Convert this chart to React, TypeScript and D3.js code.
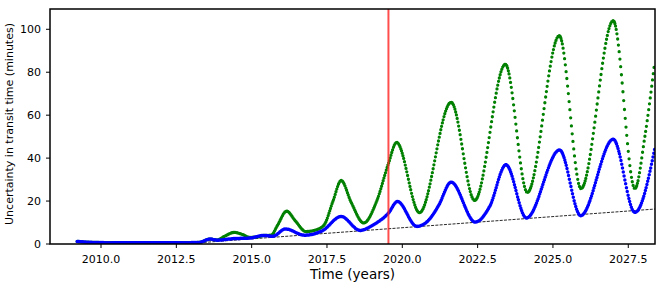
import React, { useEffect, useRef } from "react";
import * as d3 from "d3";

// values
const greenTimes = [2009.21, 2009.6, 2010.5, 2011.5, 2012.5, 2013.25, 2013.62, 2013.85, 2014.1, 2014.42, 2014.7, 2014.93, 2015.2, 2015.4, 2015.65, 2015.85, 2016.16, 2016.45, 2016.8, 2017.1, 2017.4, 2017.7, 2017.97, 2018.3, 2018.72, 2019.15, 2019.54, 2019.81, 2020.57, 2021.62, 2022.4, 2023.42, 2024.15, 2025.21, 2025.93, 2027.0, 2027.72, 2028.05, 2028.38];
const greenValues = [1.2, 0.8, 0.6, 0.6, 0.6, 0.7, 2.3, 1.9, 3.6, 5.4, 4.4, 3.1, 3.3, 4.0, 4.1, 8.5, 15.3, 10.8, 5.8, 6.4, 8.8, 20, 29.6, 19.5, 9.8, 20, 37.5, 47.3, 14.6, 66, 20.3, 83.7, 24, 97, 25.8, 104, 25.8, 50, 85];

const blueTimes = [2009.21, 2009.6, 2010.5, 2011.5, 2012.5, 2013.25, 2013.62, 2013.85, 2014.4, 2014.95, 2015.4, 2015.7, 2016.12, 2016.75, 2017.35, 2017.97, 2018.6, 2019.0, 2019.54, 2019.84, 2020.48, 2020.9, 2021.2, 2021.62, 2022.42, 2022.9, 2023.44, 2024.12, 2025.22, 2025.92, 2027.0, 2027.72, 2028.38];
const blueValues = [1.2, 0.8, 0.6, 0.6, 0.6, 0.7, 2.3, 1.8, 2.5, 2.8, 4.0, 3.6, 7.0, 4.1, 6.2, 12.8, 6.3, 8.6, 14.4, 19.8, 8.2, 11.5, 17.8, 28.8, 10.2, 17.5, 36.9, 12.1, 43.8, 13.2, 48.8, 14.7, 44.5];

const trendTimes = [2012.7, 2028.5];
const trendValues = [0, 16.4];

const markerYear = 2019.54;

const xTicks = [2010, 2012.5, 2015, 2017.5, 2020, 2022.5, 2025, 2027.5];
const yTicks = [0, 20, 40, 60, 80, 100];

const W = 664, H = 286;
const left = 50, right = 655, top = 9, bottom = 244;

function dotify(path: SVGPathElement | null, dx: number) {
    if (!path) return;
    const total = path.getTotalLength();
    const dashes: number[] = [];
    let lastL = 0;
    let lastX = path.getPointAtLength(0).x;
    const step = 0.25;
    for (let L = step; L <= total; L += step) {
        const p = path.getPointAtLength(L);
        if (p.x - lastX >= dx) {
            dashes.push(0, L - lastL);
            lastL = L;
            lastX = p.x;
        }
    }
    dashes.push(0, total + 10);
    path.setAttribute("stroke-dasharray", dashes.map(d => d.toFixed(2)).join(" "));
}

export default function App() {
    const greenRef = useRef<SVGPathElement>(null);
    const blueRef = useRef<SVGPathElement>(null);

    const x = d3.scaleLinear().domain([2008.307, 2028.387]).range([left, right]);
    const y = d3.scaleLinear().domain([0, 109.45]).range([bottom, top]);

    const line = d3.line<[number, number]>()
        .x(d => x(d[0]))
        .y(d => y(d[1]))
        .curve(d3.curveMonotoneX);

    const green = line(greenTimes.map((t, i) => [t, greenValues[i]]));
    const blue = line(blueTimes.map((t, i) => [t, blueValues[i]]));
    const trend = d3.line<[number, number]>().x(d => x(d[0])).y(d => y(d[1]))(trendTimes.map((t, i) => [t, trendValues[i]]));

    useEffect(() => {
        dotify(greenRef.current, 0.75);
        dotify(blueRef.current, 0.75);
    }, []);

    const font = "DejaVu Sans, sans-serif";

    return (
        <svg width={W} height={H} style={{ position: "absolute", left: 0, top: 0, background: "white" }}>
            <defs>
                <clipPath id="plotclip">
                    <rect x={left} y={top} width={right - left} height={bottom - top} />
                </clipPath>
            </defs>
            <g clipPath="url(#plotclip)">
                <path d={trend || ""} fill="none" stroke="#111" strokeWidth={0.9} strokeDasharray="3,1.3" />
                <path ref={greenRef} d={green || ""} fill="none" stroke="#008000" strokeWidth={3.3} strokeLinecap="round" />
                <path ref={blueRef} d={blue || ""} fill="none" stroke="#0000ff" strokeWidth={3.5} strokeLinecap="round" />
                <line x1={x(markerYear)} x2={x(markerYear)} y1={top} y2={bottom} stroke="#ff2020" strokeOpacity={0.8} strokeWidth={2} />
            </g>
            <rect x={left} y={top} width={right - left} height={bottom - top} fill="none" stroke="black" strokeWidth={1.5} />
            {xTicks.map(t => (
                <g key={t} transform={`translate(${x(t)},${bottom})`}>
                    <line y1={0} y2={4} stroke="black" strokeWidth={1} />
                    <text y={19.3} textAnchor="middle" fontFamily={font} fontSize={11} fill="black">{d3.format(".1f")(t)}</text>
                </g>
            ))}
            {yTicks.map(v => (
                <g key={v} transform={`translate(${left},${y(v)})`}>
                    <line x1={0} x2={-4} stroke="black" strokeWidth={1} />
                    <text x={-9} dy="0.36em" textAnchor="end" fontFamily={font} fontSize={11} fill="black">{v}</text>
                </g>
            ))}
            <text x={(left + right) / 2} y={279} textAnchor="middle" fontFamily={font} fontSize={13.5} fill="black">Time (years)</text>
            <text transform={`translate(13,124) rotate(-90)`} textAnchor="middle" fontFamily={font} fontSize={11} fill="black">Uncertainty in transit time (minutes)</text>
        </svg>
    );
}
